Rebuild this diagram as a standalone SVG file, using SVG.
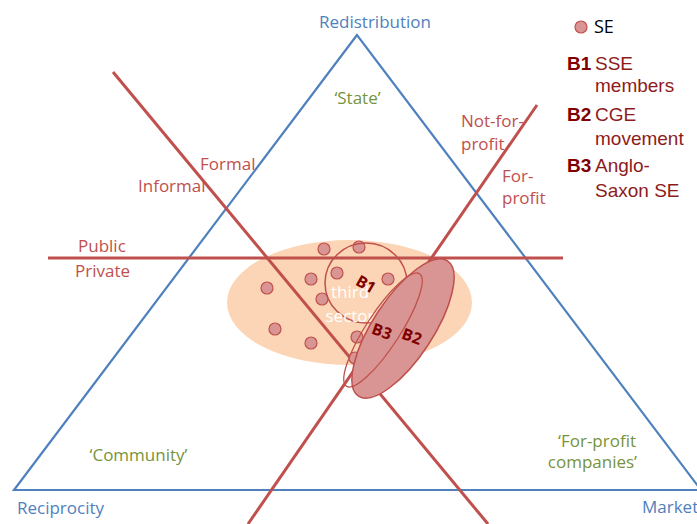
<svg xmlns="http://www.w3.org/2000/svg" width="697" height="524" viewBox="0 0 697 524">
<style>
.lbl{font-family:"Open Sans","Liberation Sans",sans-serif;font-size:17px}
.blue{fill:#4F81BD}
.green{fill:#77933C}
.red{fill:#C0504D}
.dot{fill:#D99594;stroke:#C0504D;stroke-width:1.2}
.rl{stroke:#C0504D;stroke-width:3;fill:none}
.bl{font-family:"Open Sans","Liberation Sans",sans-serif;font-size:16px;font-weight:bold;fill:#7F0000}
.lg{font-family:"Liberation Sans",Arial,sans-serif;font-size:19px;fill:#8E1B1B}
.lgb{font-family:"Liberation Sans",Arial,sans-serif;font-size:19px;font-weight:bold;fill:#800000}
</style>
<rect width="697" height="524" fill="#FFFFFF"/>
<g id="third-sector">
<ellipse cx="349.5" cy="302.5" rx="122.5" ry="62.5" fill="#FBD5B5"/>
</g>
<g id="triangle">
<polygon points="357,35 14,490 701,490" fill="none" stroke="#4F81BD" stroke-width="2.2"/>
</g>
<g id="connectors">
<line class="rl" x1="113" y1="72" x2="488" y2="524"/>
<line class="rl" x1="537" y1="105" x2="248" y2="524"/>
<line class="rl" x1="48" y1="258" x2="563" y2="258"/>
</g>
<g id="se-dots">
<circle class="dot" cx="324" cy="249" r="6"/>
<circle class="dot" cx="359" cy="247" r="6"/>
<circle class="dot" cx="267" cy="288" r="6"/>
<circle class="dot" cx="311" cy="279" r="6"/>
<circle class="dot" cx="337" cy="273" r="6"/>
<circle class="dot" cx="388" cy="279" r="6"/>
<circle class="dot" cx="322" cy="299" r="6"/>
<circle class="dot" cx="275" cy="329" r="6"/>
<circle class="dot" cx="311" cy="343" r="6"/>
<circle class="dot" cx="357" cy="337" r="6"/>
<circle class="dot" cx="355" cy="358" r="6"/>
</g>
<g id="B1">
<ellipse cx="366" cy="283" rx="41" ry="40" fill="none" stroke="#C0504D" stroke-width="1.5"/>
</g>
<g id="third-sector-label">
<text class="lbl" x="350" y="298" text-anchor="middle" fill="#FFFFFF" font-size="16">third</text>
<text class="lbl" x="350" y="322" text-anchor="middle" fill="#FFFFFF" font-size="16">sector</text>
</g>
<g id="B2">
<ellipse cx="403" cy="328.5" rx="81" ry="30" transform="rotate(-56.7 403 328.5)" fill="#D99594" stroke="#C0504D" stroke-width="1.5"/>
</g>
<g id="B3">
<ellipse cx="383" cy="330" rx="67" ry="17" transform="rotate(-57 383 330)" fill="none" stroke="#C0504D" stroke-width="1.3"/>
</g>
<g id="B-labels">
<text class="bl" x="366" y="290" text-anchor="middle" transform="rotate(30 366 284)">B1</text>
<text class="bl" x="382" y="337" text-anchor="middle" transform="rotate(20 382 331)">B3</text>
<text class="bl" x="412" y="342" text-anchor="middle" transform="rotate(20 412 336)">B2</text>
</g>
<g id="corner-labels">
<text class="lbl blue" x="375" y="28" text-anchor="middle">Redistribution</text>
<text class="lbl blue" x="17" y="514">Reciprocity</text>
<text class="lbl blue" x="642" y="513">Market</text>
</g>
<g id="sector-labels">
<text class="lbl green" x="357.5" y="104" text-anchor="middle">‘State’</text>
<text class="lbl green" x="138.5" y="461" text-anchor="middle">‘Community’</text>
<text class="lbl green" x="636" y="447" text-anchor="end">‘For-profit</text>
<text class="lbl green" x="637" y="468" text-anchor="end">companies’</text>
</g>
<g id="axis-labels">
<text class="lbl red" x="461" y="127">Not-for-</text>
<text class="lbl red" x="461" y="150">profit</text>
<text class="lbl red" x="502" y="182">For-</text>
<text class="lbl red" x="502" y="204">profit</text>
<text class="lbl red" x="200" y="170">Formal</text>
<text class="lbl red" x="138" y="192">Informal</text>
<text class="lbl red" x="78" y="252">Public</text>
<text class="lbl red" x="75" y="277">Private</text>
</g>
<g id="legend">
<circle class="dot" cx="581" cy="27" r="6"/>
<text x="594" y="33" font-family="Open Sans, Liberation Sans, sans-serif" font-size="18" fill="#000000">SE</text>
<text class="lgb" x="567" y="70">B1</text>
<text class="lg" x="595" y="70">SSE</text>
<text class="lg" x="595" y="92">members</text>
<text class="lgb" x="567" y="121">B2</text>
<text class="lg" x="595" y="121">CGE</text>
<text class="lg" x="595" y="145">movement</text>
<text class="lgb" x="567" y="172">B3</text>
<text class="lg" x="595" y="172">Anglo-</text>
<text class="lg" x="595" y="197">Saxon SE</text>
</g>
</svg>
